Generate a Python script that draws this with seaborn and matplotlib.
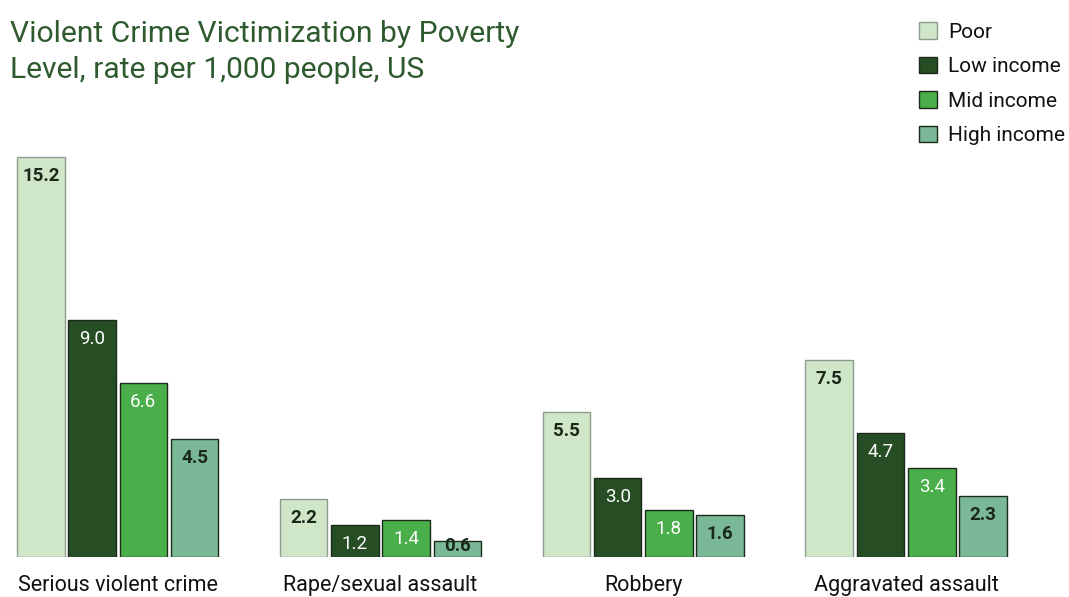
import pandas as pd
import matplotlib
matplotlib.use('Agg')
import matplotlib.pyplot as plt
import seaborn as sns

# data
categories = ['Serious violent crime', 'Rape/sexual assault', 'Robbery', 'Aggravated assault']
levels = ['Poor', 'Low income', 'Mid income', 'High income']
poor = [15.2, 2.2, 5.5, 7.5]
low_income = [9.0, 1.2, 3.0, 4.7]
mid_income = [6.6, 1.4, 1.8, 3.4]
high_income = [4.5, 0.6, 1.6, 2.3]

colors = ['#cfe6c9', '#274d25', '#4aae4a', '#7bb897']
edges = ['#8e9e8e', '#1b2b1b', '#1b2b1b', '#1b2b1b']
text_colors = ['#1a2a1a', 'white', 'white', '#1a2a1a']
text_weights = ['bold', 'normal', 'normal', 'bold']

df = pd.DataFrame({
    'category': categories * 4,
    'level': [lv for lv in levels for _ in categories],
    'rate': poor + low_income + mid_income + high_income,
})

sns.set_theme(style='white')
plt.rcParams['font.family'] = ['Roboto', 'DejaVu Sans']

fig = plt.figure(figsize=(10.69, 5.97), dpi=100)
ax = fig.add_axes([0, 0.067, 1, 0.705])

sns.barplot(data=df, x='category', y='rate', hue='level', order=categories,
            hue_order=levels, palette=colors, width=0.78, gap=0.07,
            saturation=1, ax=ax, legend=True)

for i, cont in enumerate(ax.containers):
    for bar in cont:
        bar.set_edgecolor(edges[i])
        bar.set_linewidth(1.0)
        h = bar.get_height()
        y = max(h - 0.72, 0.4)
        ax.text(bar.get_x() + bar.get_width() / 2, y, f'{h:.1f}',
                ha='center', va='center', fontsize=13.5,
                color=text_colors[i], fontweight=text_weights[i])

ax.set_xlim(-0.448, 3.62)
ax.set_ylim(0, 16)
ax.set_xlabel('')
ax.set_ylabel('')
ax.set_yticks([])
ax.tick_params(axis='x', length=0, pad=13, labelsize=15.5, labelcolor='#111111')
sns.despine(ax=ax, left=True, bottom=True)

handles, labels = ax.get_legend_handles_labels()
for i, hd in enumerate(handles):
    hd.set_edgecolor(edges[i])
leg = ax.legend(handles, labels, loc='upper left', bbox_to_anchor=(0.8595, 0.963),
                bbox_transform=fig.transFigure, frameon=False, fontsize=15,
                handlelength=0.85, handleheight=0.85, handletextpad=0.55,
                labelspacing=0.72, borderaxespad=0, borderpad=0)
for t in leg.get_texts():
    t.set_color('#111111')

fig.text(0.009, 0.966, 'Violent Crime Victimization by Poverty\nLevel, rate per 1,000 people, US',
         ha='left', va='top', fontsize=21.6, color='#2f5a2f', linespacing=1.35)

fig.savefig('out.png', dpi=100)
